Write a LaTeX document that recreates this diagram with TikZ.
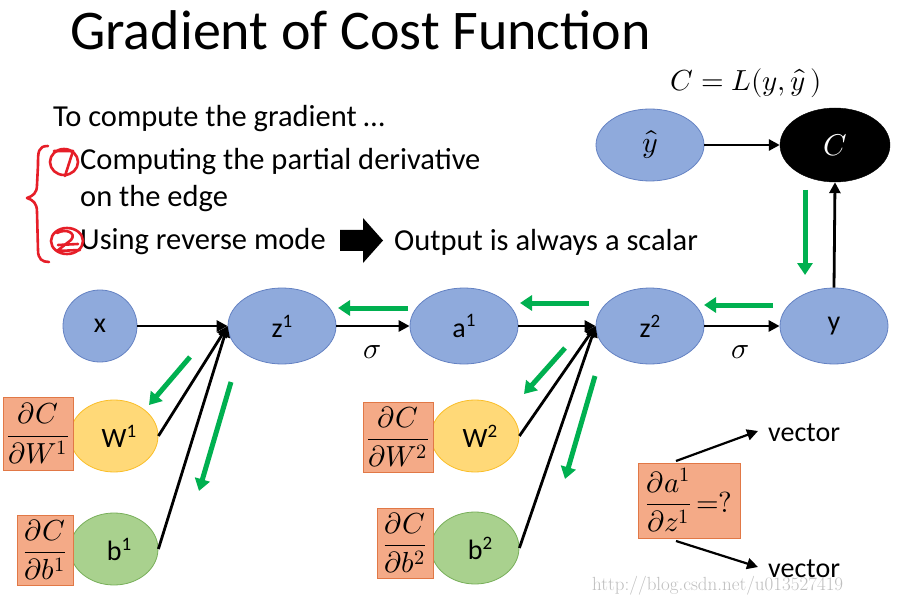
\documentclass[tikz,border=0pt]{standalone}
\usepackage{fontspec}
\usepackage{unicode-math}
\setmainfont{Carlito}
\setmathfont{Latin Modern Math}
\usetikzlibrary{shapes.geometric,arrows.meta}
\definecolor{nblue}{RGB}{143,170,220}
\definecolor{nblueb}{RGB}{100,130,195}
\definecolor{nyel}{RGB}{255,217,120}
\definecolor{nyelb}{RGB}{250,190,40}
\definecolor{ngreen}{RGB}{169,209,142}
\definecolor{ngreenb}{RGB}{120,175,90}
\definecolor{nbox}{RGB}{244,170,135}
\definecolor{nboxb}{RGB}{225,120,70}
\definecolor{garrow}{RGB}{0,176,80}
\definecolor{pen}{RGB}{230,30,40}
\newcommand\hsup[1]{\raisebox{0.75ex}{\fontsize{19}{21}\selectfont #1}}
\begin{document}
\begin{tikzpicture}[x=1pt,y=-1pt,
  bluenode/.style={ellipse,draw=nblueb,fill=nblue,line width=0.8pt,minimum width=108pt,minimum height=76pt,inner sep=0pt,font=\fontsize{28}{32}\selectfont},
  yelnode/.style={ellipse,draw=nyelb,fill=nyel,line width=0.8pt,minimum width=88pt,minimum height=72pt,inner sep=0pt,font=\fontsize{28}{32}\selectfont},
  grnnode/.style={ellipse,draw=ngreenb,fill=ngreen,line width=0.8pt,minimum width=88pt,minimum height=72pt,inner sep=0pt,font=\fontsize{28}{32}\selectfont},
  derivbox/.style={rectangle,draw=nboxb,fill=nbox,line width=0.8pt,inner sep=0pt,font=\fontsize{29}{32}\selectfont},
  fwd/.style={-{Triangle[length=11pt,width=11pt]},line width=2.8pt,black},
  bwd/.style={-{Triangle[length=12pt,width=15pt]},line width=5pt,garrow},
  txt/.style={anchor=base west,inner sep=0pt,font=\fontsize{30.5}{34}\selectfont},
  penline/.style={draw=pen,line width=2.6pt,line cap=round,line join=round}
]
\useasboundingbox (0,0) rectangle (913,604);
\fill[white] (0,0) rectangle (913,604);

% title
\node[anchor=base west,inner sep=0pt,font=\fontsize{56}{62}\selectfont] (title) at (70,50) {Gradient of Cost Function};

% text block
\node[txt] (t1) at (53,127) {To compute the gradient …};
\node[txt] (t2) at (80,170) {Computing the partial derivative};
\node[txt] (t3) at (80,207) {on the edge};
\node[txt] (t4) at (80,250) {Using reverse mode};
\node[txt] (t5) at (394,251) {Output is always a scalar};
\fill[black] (340,230) -- (363,230) -- (363,218) -- (383,240.5) -- (363,263) -- (363,251) -- (340,251) -- cycle;

% red annotations
\path[penline] (48,146) .. controls (38,146) and (38,152) .. (38,165) -- (37,185) .. controls (37,193) and (33,196) .. (27,198)
  .. controls (33,200) and (37,203) .. (37,212) -- (38,250) .. controls (38,259) and (42,262) .. (49,262);
\draw[penline] (64,162) circle [x radius=14, y radius=13];
\draw[penline] (54,151) -- (73,151) -- (65,176);
\draw[penline] (67,241) circle [x radius=16, y radius=13];
\draw[penline] (57,233) .. controls (66,228) and (77,233) .. (71,240) -- (57,251) -- (80,250);
\draw[penline] (58,245) -- (78,244);

% C = L(y, yhat)
\node[inner sep=0pt,font=\fontsize{29}{34}\selectfont] (eq) at (746,83) {$C = L(y,\hat{y}\,)$};

% main nodes
\node[bluenode,minimum width=74pt,minimum height=72pt] (x) at (100,326) {x};
\node[bluenode] (z1) at (282,326) {z\hsup{1}};
\node[bluenode] (a1) at (464,326) {a\hsup{1}};
\node[bluenode] (z2) at (650,326) {z\hsup{2}};
\node[bluenode] (y) at (834,326) {y};
\node[bluenode,minimum height=72pt,font=\fontsize{30}{34}\selectfont] (yh) at (650,145) {$\hat{y}$};
\node[ellipse,fill=black,draw=black,minimum width=110pt,minimum height=74pt,inner sep=0pt,text=white,font=\fontsize{30}{34}\selectfont] (C) at (835,145) {$C$};

% sigma labels
\node[font=\fontsize{30}{34}\selectfont] (s1) at (372,352) {$\sigma$};
\node[font=\fontsize{30}{34}\selectfont] (s2) at (740,352) {$\sigma$};

% parameter nodes
\node[yelnode] (W1) at (114,436) {\hspace*{10pt}W\hsup{1}};
\node[grnnode] (b1) at (114,549) {\hspace*{10pt}b\hsup{1}};
\node[yelnode] (W2) at (475,436) {\hspace*{10pt}W\hsup{2}};
\node[grnnode] (b2) at (475,548) {\hspace*{10pt}b\hsup{2}};

% derivative boxes
\node[derivbox,minimum width=70pt,minimum height=73pt] (dW1) at (38,433.5) {$\displaystyle\frac{\partial C}{\partial W^1}$};
\node[derivbox,minimum width=56pt,minimum height=70pt] (db1) at (45,550) {$\displaystyle\frac{\partial C}{\partial b^1}$};
\node[derivbox,minimum width=70pt,minimum height=70pt] (dW2) at (398,437) {$\displaystyle\frac{\partial C}{\partial W^2}$};
\node[derivbox,minimum width=56pt,minimum height=70pt] (db2) at (405,543) {$\displaystyle\frac{\partial C}{\partial b^2}$};
\node[derivbox,minimum width=102pt,minimum height=75pt] (da) at (689,500.5) {$\displaystyle\frac{\partial a^1}{\partial z^1}\,{=}?$};

% vector labels
\node[anchor=base west,inner sep=0pt,font=\fontsize{28}{32}\selectfont] (v1) at (768,441) {vector};
\node[anchor=base west,inner sep=0pt,font=\fontsize{28}{32}\selectfont] (v2) at (768,577) {vector};
\coordinate (v1t) at (758,431);
\coordinate (v2t) at (758,567);
\draw[fwd,line width=2.2pt] (676,461) -- (v1t);
\draw[fwd,line width=2.2pt] (676,541) -- (v2t);

% forward connectors
\draw[fwd] (x.east) -- (z1.west);
\draw[fwd] (z1.east) -- (a1.west);
\draw[fwd] (a1.east) -- (z2.west);
\draw[fwd] (z2.east) -- (y.west);
\draw[fwd] (yh.east) -- (C.west);
\draw[fwd] (y.north) -- (C.south);
\draw[fwd] (W1.east) -- (z1.west);
\draw[fwd] (b1.east) -- (z1.west);
\draw[fwd] (W2.east) -- (z2.west);
\draw[fwd] (b2.east) -- (z2.west);

% backward (green) arrows
\draw[bwd] (805,190) -- (805,275);
\draw[bwd] (773,305) -- (704,305);
\draw[bwd] (589,303) -- (520,303);
\draw[bwd] (408,308) -- (338,308);
\draw[bwd] (190,357) -- (149,405);
\draw[bwd] (231,382) -- (199,491);
\draw[bwd] (565,348) -- (524,394);
\draw[bwd] (595,376) -- (565,479);

% watermark
\node[anchor=base west,inner sep=0pt,text=black!25,font=\fontspec{Latin Modern Roman}\fontsize{19}{22}\selectfont] (wm) at (592,590) {http://blog.csdn.net/u013527419};
\end{tikzpicture}
\end{document}
